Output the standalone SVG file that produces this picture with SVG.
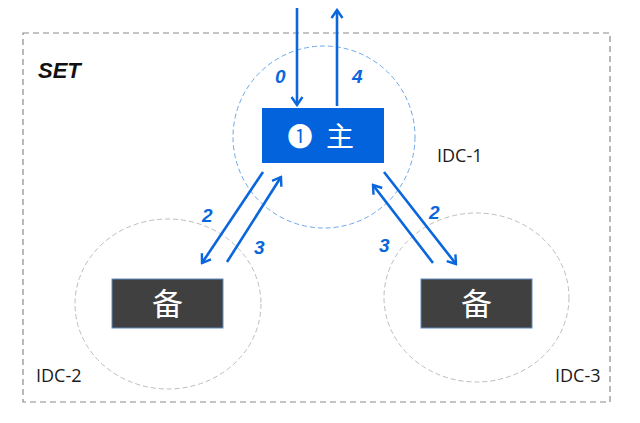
<svg xmlns="http://www.w3.org/2000/svg" width="640" height="423" viewBox="0 0 640 423">
<defs>
<style>
.frame{fill:none;stroke:#8a8a8a;stroke-width:1.2;stroke-dasharray:6 4}
.idc{fill:none;stroke:#bdbdbd;stroke-width:1;stroke-dasharray:5 3}
.idc1{fill:none;stroke:#6ea8ea;stroke-width:1;stroke-dasharray:5 3}
.conn{fill:none;stroke:#0a66dc;stroke-width:2.6;marker-end:url(#ah)}
.lbl{font-family:"Open Sans","Noto Sans",sans-serif;font-size:18px;fill:#1a1a1a}
.num{font-family:"Liberation Sans",sans-serif;font-style:italic;font-weight:bold;font-size:19px;fill:#0a66dc}
.bak{fill:#404040;stroke:#5f8ac0;stroke-width:1}
.cjk{font-family:"Noto Sans CJK SC","Noto Sans",sans-serif;fill:#ffffff;text-anchor:middle}
</style>
<marker id="ah" markerUnits="userSpaceOnUse" viewBox="-10 -7 12 14" refX="0" refY="0" markerWidth="12" markerHeight="14" orient="auto">
<path d="M-8,-5.5 L0,0 L-8,5.5" fill="none" stroke="#0a66dc" stroke-width="2.4" stroke-linejoin="miter"/>
</marker>
</defs>
<rect width="640" height="423" fill="#ffffff"/>
<g id="set">
<rect class="frame" x="23" y="33" width="587" height="369"/>
<text x="38" y="78" font-family="Liberation Sans,sans-serif" font-style="italic" font-weight="bold" font-size="22" fill="#111">SET</text>
</g>
<g id="idc1">
<circle class="idc1" cx="324" cy="137" r="91"/>
<text class="lbl" x="437" y="162">IDC-1</text>
</g>
<g id="idc2">
<ellipse class="idc" cx="168" cy="304" rx="93" ry="85"/>
<text class="lbl" x="36" y="382">IDC-2</text>
</g>
<g id="idc3">
<ellipse class="idc" cx="476.5" cy="297.5" rx="92.5" ry="84.5"/>
<text class="lbl" x="555" y="382">IDC-3</text>
</g>
<g id="master">
<rect x="262" y="108" width="122" height="55" fill="#0363dc"/>
<text class="cjk" x="300" y="146" font-size="25">❶</text>
<text class="cjk" x="340" y="147" font-size="28">主</text>
</g>
<g id="backup-left">
<rect class="bak" x="112" y="279" width="111" height="49"/>
<text class="cjk" x="167.5" y="315" font-size="31">备</text>
</g>
<g id="backup-right">
<rect class="bak" x="421" y="279" width="111" height="49"/>
<text class="cjk" x="476.5" y="315" font-size="31">备</text>
</g>
<g id="connectors">
<line class="conn" x1="297" y1="8" x2="297" y2="105"/>
<line class="conn" x1="337" y1="106" x2="337" y2="10"/>
<line class="conn" x1="263" y1="172" x2="202" y2="263"/>
<line class="conn" x1="227" y1="262" x2="281" y2="177"/>
<line class="conn" x1="384" y1="172" x2="456" y2="264"/>
<line class="conn" x1="433" y1="263" x2="373" y2="185"/>
<text class="num" x="275" y="83">0</text>
<text class="num" x="352" y="83">4</text>
<text class="num" x="202" y="222">2</text>
<text class="num" x="254" y="254">3</text>
<text class="num" x="429" y="219">2</text>
<text class="num" x="379" y="252">3</text>
</g>
</svg>
